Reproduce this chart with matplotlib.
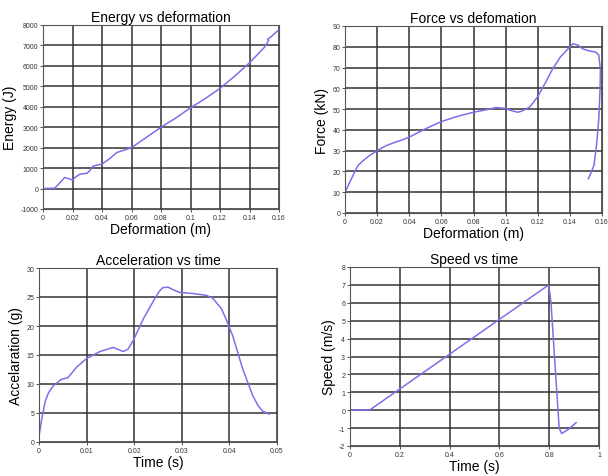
import matplotlib
matplotlib.use("Agg")
import matplotlib.pyplot as plt

plt.rcParams['font.family'] = ['Liberation Sans', 'DejaVu Sans']

# Energy vs deformation
energy_x = [0, 0.008, 0.011, 0.0147, 0.018, 0.02, 0.022, 0.025, 0.03, 0.032, 0.034, 0.04,
            0.045, 0.05, 0.06, 0.07, 0.08, 0.09, 0.1, 0.11, 0.12, 0.13, 0.14, 0.15,
            0.153, 0.1522, 0.155, 0.16]
energy_y = [0, 20, 250, 540, 470, 410, 560, 700, 750, 900, 1100, 1200,
            1450, 1760, 2000, 2500, 3000, 3450, 3950, 4400, 4900, 5500, 6150, 6900,
            7250, 7300, 7450, 7780]

# Force vs deformation
force_x = [0, 0.004, 0.008, 0.011, 0.015, 0.02, 0.025, 0.031, 0.036, 0.04, 0.045, 0.05,
           0.06, 0.07, 0.08, 0.09, 0.094, 0.1, 0.104, 0.1075, 0.11, 0.115, 0.12, 0.125,
           0.129, 0.134, 0.1386, 0.142, 0.145, 0.148, 0.152, 0.156, 0.158, 0.159,
           0.1588, 0.158, 0.1565, 0.155, 0.153, 0.1515]
force_y = [10, 16.5, 22.8, 25, 27.5, 30, 32.2, 34, 35.3, 36.5, 38.5, 40.5,
           44, 46.5, 48.5, 50, 50.8, 50.3, 49.2, 48.5, 49, 51, 56, 63,
           69, 75, 78.8, 81.5, 80.8, 79, 78, 77.5, 76, 69,
           60, 45, 32, 23, 19, 16.5]

# Acceleration vs time
acc_t = [0, 0.00056, 0.0013, 0.002, 0.003, 0.0047, 0.0061, 0.0079, 0.01, 0.0128, 0.0156,
         0.0177, 0.0187, 0.0198, 0.0219, 0.0243, 0.0253, 0.026, 0.0271, 0.0283, 0.0295,
         0.0323, 0.0351, 0.0365, 0.0372, 0.0383, 0.0393, 0.0407, 0.0428, 0.0449, 0.046,
         0.047, 0.0484]
acc_g = [1.0, 3.9, 7.0, 8.5, 9.7, 10.8, 11.1, 12.9, 14.4, 15.6, 16.3,
         15.6, 16.0, 17.5, 21.2, 24.7, 26.0, 26.6, 26.7, 26.2, 25.8,
         25.6, 25.3, 24.8, 24.1, 23.0, 21.2, 18.3, 12.6, 8.0, 6.3,
         5.3, 4.8]

# Speed vs time
speed_t = [0, 0.078, 0.798, 0.807, 0.84, 0.85, 0.874, 0.908]
speed_v = [0, 0, 7.0, 6.05, -1.0, -1.3, -1.1, -0.7]

line_color = "#7a70e8"
grid_color = "#333333"

fig = plt.figure(figsize=(6.08, 4.77), dpi=100)
W, H = 608, 477

def make_ax(left, top, right, bottom):
    return fig.add_axes([left / W, 1 - bottom / H, (right - left) / W, (bottom - top) / H])

def style(ax, title, xlabel, ylabel, xticks, yticks, xlim, ylim):
    ax.set_xlim(*xlim)
    ax.set_ylim(*ylim)
    ax.set_xticks(xticks)
    ax.set_yticks(yticks)
    ax.set_xticklabels([("%g" % v) for v in xticks])
    ax.set_yticklabels([("%g" % v) for v in yticks])
    ax.tick_params(labelsize=5, length=2, width=0.6, pad=1.5, colors="#333333")
    ax.grid(True, color=grid_color, linewidth=1.1)
    ax.set_axisbelow(True)
    for s in ax.spines.values():
        s.set_color("#555555")
        s.set_linewidth(0.8)
    ax.set_title(title, fontsize=10, pad=3)
    ax.set_xlabel(xlabel, fontsize=10, labelpad=1)
    ax.set_ylabel(ylabel, fontsize=10, labelpad=2)

ax1 = make_ax(43, 26, 279, 210)
ax1.plot(energy_x, energy_y, color=line_color, linewidth=1.1)
style(ax1, "Energy vs deformation", "Deformation (m)", "Energy (J)",
      [0, 0.02, 0.04, 0.06, 0.08, 0.1, 0.12, 0.14, 0.16],
      list(range(-1000, 8001, 1000)), (0, 0.16), (-1000, 8000))

ax2 = make_ax(345, 27, 602, 214)
ax2.plot(force_x, force_y, color=line_color, linewidth=1.1)
style(ax2, "Force vs defomation", "Deformation (m)", "Force (kN)",
      [0, 0.02, 0.04, 0.06, 0.08, 0.1, 0.12, 0.14, 0.16],
      list(range(0, 91, 10)), (0, 0.16), (0, 90))

ax3 = make_ax(39, 269, 277, 443)
ax3.plot(acc_t, acc_g, color=line_color, linewidth=1.1)
style(ax3, "Acceleration vs time", "Time (s)", "Accelaration (g)",
      [0, 0.01, 0.02, 0.03, 0.04, 0.05],
      list(range(0, 31, 5)), (0, 0.05), (0, 30))

ax4 = make_ax(350, 268, 599, 447)
ax4.plot(speed_t, speed_v, color=line_color, linewidth=1.1)
style(ax4, "Speed vs time", "Time (s)", "Speed (m/s)",
      [0, 0.2, 0.4, 0.6, 0.8, 1],
      list(range(-2, 9, 1)), (0, 1), (-2, 8))

fig.savefig("out.png", dpi=100)
